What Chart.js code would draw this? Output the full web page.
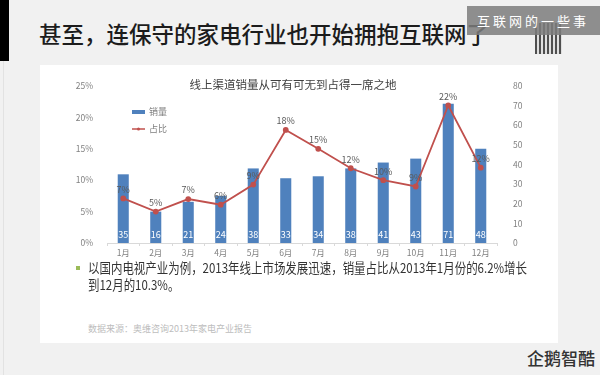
<!DOCTYPE html>
<html>
<head>
<meta charset="utf-8">
<script src="https://cdn.jsdelivr.net/npm/chart.js@4.4.0/dist/chart.umd.min.js"></script>
<style>
  html, body { margin: 0; padding: 0; }
  body {
    width: 600px; height: 375px; position: relative; overflow: hidden;
    background: #f1f1f1; font-family: "Noto Sans CJK SC", "Noto Sans", sans-serif;
  }
  #strip { position: absolute; left: 0; top: 0; width: 9px; height: 61px; background: #000; }
  #edge { position: absolute; left: 3px; top: 61px; width: 1px; height: 314px; background: #e2e2e2; }
  #title { position: absolute; left: 39px; top: 22px; font-size: 22.5px; line-height: 1; font-weight: 500; color: #1c1c1c; white-space: nowrap; }
  #qr {
    position: absolute; left: 535px; top: 23px; width: 27px; height: 31px;
    background: repeating-linear-gradient(90deg, #333 0 2px, #ddd 2px 4px), #555;
    opacity: 0.85;
  }
  #tag {
    position: absolute; left: 467px; top: 6px; width: 133px; height: 29px;
    background: rgba(125,125,125,0.85); color: #fff; font-size: 13px;
    line-height: 29px; letter-spacing: 3px; padding-left: 10px; box-sizing: border-box; white-space: nowrap;
  }
  #card { position: absolute; left: 40px; top: 65px; width: 518px; height: 278px; background: #fff; }
  #chartbox { position: absolute; left: 40px; top: 65px; width: 518px; height: 200px; }
  #ctitle { position: absolute; left: 40px; top: 76px; width: 506px; text-align: center; font-size: 11.5px; color: #404040; }
  #bullet { position: absolute; left: 76px; top: 266px; width: 4px; height: 4px; background: #9bbb59; }
  #note { position: absolute; left: 88px; top: 259px; font-size: 13.5px; line-height: 17px; color: #333; white-space: nowrap; }
  #note span { display: inline-block; transform-origin: left center; }
  #source { position: absolute; left: 88px; top: 322px; font-size: 9px; color: #bdbdbd; }
  #logo { position: absolute; left: 527px; top: 345px; font-size: 17px; color: #333; font-weight: 500; }
</style>
</head>
<body>
<div id="strip"></div>
<div id="edge"></div>
<div id="title">甚至，连保守的家电行业也开始拥抱互联网了</div>
<div id="qr"></div>
<div id="tag">互联网的一些事</div>
<div id="card"></div>
<div id="chartbox"><canvas id="c"></canvas></div>
<div id="ctitle">线上渠道销量从可有可无到占得一席之地</div>
<div id="bullet"></div>
<div id="note"><span id="l1">以国内电视产业为例，2013年线上市场发展迅速，销量占比从2013年1月份的6.2%增长</span><br><span id="l2">到12月的10.3%。</span></div>
<div id="source">数据来源：奥维咨询2013年家电产业报告</div>
<div id="logo">企鹅智酷</div>
<script>
// 月份
const months = ['1月', '2月', '3月', '4月', '5月', '6月', '7月', '8月', '9月', '10月', '11月', '12月'];
// 销量 (右轴)
const sales = [35, 16, 21, 24, 38, 33, 34, 38, 41, 43, 71, 48];
// 占比 % (左轴)
const share = [7.1, 5.0, 7.0, 6.1, 9.3, 18.0, 15.0, 11.9, 10.0, 9.0, 21.9, 12.0];
const shareTicks = [0, 5, 10, 15, 20, 25];
const salesTicks = [0, 10, 20, 30, 40, 50, 60, 70, 80];

const blue = '#4f81bd';
const red = '#c0504d';
const font = '"Noto Sans CJK SC", "Noto Sans", sans-serif';

// 正文第一行压到原图宽度
const l1 = document.getElementById('l1');
const sx = 439 / l1.getBoundingClientRect().width;
l1.style.transform = 'scaleX(' + sx + ')';
document.getElementById('l2').style.transform = 'scaleX(' + sx + ')';

// 数据标签 + 图例
const labelPlugin = {
    id: 'labels',
    afterDatasetsDraw(chart) {
        const ctx = chart.ctx;
        ctx.save();
        ctx.textAlign = 'center';
        ctx.textBaseline = 'middle';
        ctx.font = '9px ' + font;
        // 柱子底部数字
        const bars = chart.getDatasetMeta(1).data;
        ctx.fillStyle = '#ffffff';
        bars.forEach((b, i) => {
            ctx.fillText(sales[i], b.x, b.base - 8);
        });
        // 折线上方百分比
        const pts = chart.getDatasetMeta(0).data;
        ctx.fillStyle = '#595959';
        pts.forEach((p, i) => {
            ctx.fillText(Math.round(share[i]) + '%', p.x, p.y - 9);
        });
        // 图例
        const a = chart.chartArea;
        const lx = a.left + 25, ly = a.top + 26;
        ctx.fillStyle = blue;
        ctx.fillRect(lx, ly - 2, 13, 4);
        ctx.strokeStyle = red;
        ctx.lineWidth = 1.5;
        ctx.beginPath();
        ctx.moveTo(lx, ly + 17);
        ctx.lineTo(lx + 13, ly + 17);
        ctx.stroke();
        ctx.fillStyle = red;
        ctx.beginPath();
        ctx.arc(lx + 6.5, ly + 17, 1.5, 0, Math.PI * 2);
        ctx.fill();
        ctx.fillStyle = '#7f7f7f';
        ctx.textAlign = 'left';
        ctx.fillText('销量', lx + 17, ly);
        ctx.fillText('占比', lx + 17, ly + 17);
        ctx.restore();
    }
};

new Chart(document.getElementById('c'), {
    type: 'bar',
    data: {
        labels: months,
        datasets: [{
            type: 'line',
            label: '占比',
            data: share,
            yAxisID: 'y',
            borderColor: red,
            backgroundColor: red,
            borderWidth: 1.8,
            pointRadius: 2,
            pointBackgroundColor: red,
            tension: 0,
            order: 0
        }, {
            label: '销量',
            data: sales,
            yAxisID: 'y2',
            backgroundColor: blue,
            categoryPercentage: 1,
            barPercentage: 0.34,
            order: 1
        }]
    },
    options: {
        responsive: true,
        maintainAspectRatio: false,
        animation: false,
        layout: { padding: { top: 21, left: 0, right: 0, bottom: 0 } },
        plugins: { legend: { display: false }, tooltip: { enabled: false } },
        scales: {
            x: {
                grid: { display: true, drawOnChartArea: false, color: '#d9d9d9', tickLength: 3 },
                border: { color: '#d9d9d9' },
                ticks: { color: '#808080', font: { size: 8.5, family: font }, padding: 2, maxRotation: 0 },
                afterFit(s) { s.height = 22; }
            },
            y: {
                position: 'left',
                min: 0, max: 25,
                afterBuildTicks(s) { s.ticks = shareTicks.map(v => ({ value: v })); },
                grid: { display: false },
                border: { display: false },
                ticks: { color: '#808080', font: { size: 8.5, family: font }, padding: 6, callback: v => v + '%' },
                afterFit(s) { s.width = 67; }
            },
            y2: {
                position: 'right',
                min: 0, max: 80,
                afterBuildTicks(s) { s.ticks = salesTicks.map(v => ({ value: v })); },
                grid: { display: false },
                border: { display: false },
                ticks: { color: '#808080', font: { size: 8.5, family: font }, padding: 8 },
                afterFit(s) { s.width = 61; }
            }
        }
    },
    plugins: [labelPlugin]
});
</script>
</body>
</html>
